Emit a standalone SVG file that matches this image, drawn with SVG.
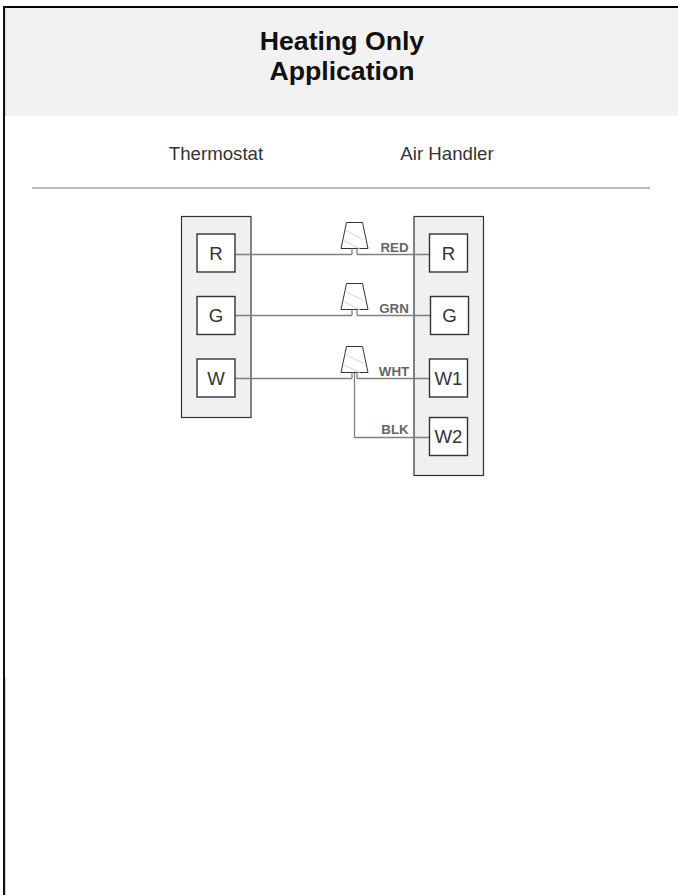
<svg xmlns="http://www.w3.org/2000/svg" width="678" height="895" viewBox="0 0 678 895">
<style>
text{font-family:"Liberation Sans",Arial,sans-serif;fill:#333;text-anchor:middle}
.title{font-size:26.670px;font-weight:bold;fill:#111}
.head{font-size:18.670px}
.term{font-size:18.670px}
.wl{font-size:13.330px;font-weight:bold;fill:#666}
.panel{fill:#f0f0f0;stroke:#333;stroke-width:1.2}
.box{fill:#fff;stroke:#333;stroke-width:1.4}
.wire{fill:none;stroke:#808080;stroke-width:1.3}
.cap{fill:#fff;stroke:#333;stroke-width:1}
.hatch{fill:none;stroke:#dcdcdc;stroke-width:1.2}
</style>
<defs>
<g id="nut">
<path class="cap" d="M-8 -26H8L13.500 0H-13.500Z"/>
<path class="hatch" d="M-9 -18L9 -9M-11 -8L5 0"/>
<path class="wire" d="M-2.500 0V6M2.500 0V6"/>
</g>
</defs>
<rect x="5" y="8" width="673" height="108" fill="#f2f2f2"/>
<rect x="5" y="8" width="1" height="108" fill="#d8d8d8"/>
<rect x="5" y="678" width="1" height="217" fill="#d0d0d0"/>
<rect x="3" y="6" width="675" height="2" fill="#000"/>
<rect x="3" y="6" width="2" height="889" fill="#111"/>
<rect x="32" y="187" width="618" height="2" fill="#b8b8b8"/>
<text class="title" x="342" y="50">Heating Only</text>
<text class="title" x="342" y="80">Application</text>
<text class="head" x="216" y="160">Thermostat</text>
<text class="head" x="447" y="160">Air Handler</text>
<g id="thermostat">
<rect class="panel" x="181.500" y="216.500" width="69.500" height="201"/>
</g>
<g id="air-handler">
<rect class="panel" x="414" y="216.500" width="69.500" height="259"/>
</g>
<g id="connectors">
<path class="wire" d="M235 254.500H352M357 254.500H430"/>
<path class="wire" d="M235 315.500H352M357 315.500H430"/>
<path class="wire" d="M235 378.500H352M357 378.500H430"/>
<path class="wire" d="M354.500 373V437.500H430"/>
</g>
<g id="nut-red"><use href="#nut" x="354.500" y="248.500"/></g>
<g id="nut-grn"><use href="#nut" x="354.500" y="309.500"/></g>
<g id="nut-wht"><use href="#nut" x="354.500" y="372.500"/></g>
<g id="t-r"><rect class="box" x="197" y="234" width="38" height="38"/><text class="term" x="216" y="260">R</text></g>
<g id="t-g"><rect class="box" x="197" y="296.500" width="38" height="38"/><text class="term" x="216" y="322">G</text></g>
<g id="t-w"><rect class="box" x="197" y="359" width="38" height="38"/><text class="term" x="216" y="385">W</text></g>
<g id="a-r"><rect class="box" x="429.500" y="234" width="38" height="38"/><text class="term" x="448.500" y="260">R</text></g>
<g id="a-g"><rect class="box" x="430.500" y="296.500" width="38" height="38"/><text class="term" x="449.500" y="322">G</text></g>
<g id="a-w1"><rect class="box" x="429.500" y="359" width="38" height="38"/><text class="term" x="448.500" y="385">W1</text></g>
<g id="a-w2"><rect class="box" x="429.500" y="417.500" width="38" height="38"/><text class="term" x="448.500" y="443">W2</text></g>
<text class="wl" x="394.500" y="252">RED</text>
<text class="wl" x="394" y="313">GRN</text>
<text class="wl" x="394" y="376">WHT</text>
<text class="wl" x="395" y="434">BLK</text>
</svg>
